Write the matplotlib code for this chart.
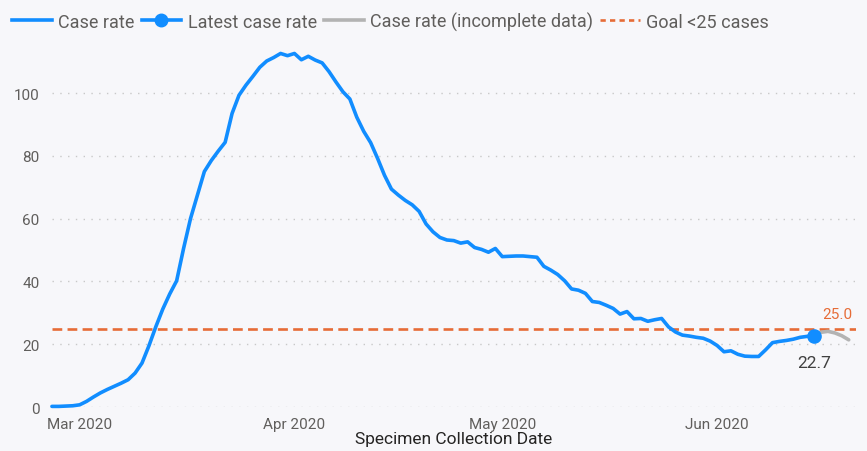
import numpy as np
import pandas as pd
import matplotlib
matplotlib.use("Agg")
import matplotlib.pyplot as plt
import matplotlib.dates as mdates
from matplotlib.lines import Line2D

# case rate per day, starting 2020-02-26
start_date = "2020-02-26"
case_rate = [0.2, 0.2, 0.3, 0.4, 0.7, 1.8, 3.2, 4.5, 5.6, 6.6,
             7.6, 8.7, 10.8, 14.0, 19.5, 25.6, 31.2, 36.0, 40.2, 50.5,
             60.0, 67.5, 75.0, 78.5, 81.5, 84.3, 93.5, 99.3, 102.5, 105.3,
             108.2, 110.2, 111.3, 112.6, 111.9, 112.6, 110.6, 111.7, 110.5, 109.6,
             106.8, 103.5, 100.4, 98.1, 92.3, 87.8, 84.2, 79.2, 73.8, 69.4,
             67.5, 65.8, 64.4, 62.3, 58.3, 55.8, 54.0, 53.2, 53.0, 52.2,
             52.6, 50.8, 50.2, 49.3, 50.5, 47.9, 48.0, 48.1, 48.1, 47.9,
             47.7, 44.8, 43.6, 42.2, 40.2, 37.6, 37.2, 36.2, 33.6, 33.3,
             32.4, 31.4, 29.6, 30.4, 28.1, 28.2, 27.3, 27.8, 28.2, 25.5,
             23.9, 22.9, 22.6, 22.2, 21.9, 21.0, 19.6, 17.6, 17.9, 16.8,
             16.2, 16.1, 16.1, 18.2, 20.5, 20.9, 21.2, 21.6, 22.2, 22.5,
             22.7]
# incomplete data, starting at the latest complete day
incomplete_start = "2020-06-15"
incomplete_rate = [22.7, 23.8, 24.1, 23.6, 22.7, 21.4]
goal = 25.0
y_ticks = [0, 20, 40, 60, 80, 100]
month_ticks = ["2020-03-01", "2020-04-01", "2020-05-01", "2020-06-01"]

dates = pd.date_range(start_date, periods=len(case_rate), freq="D")
inc_dates = pd.date_range(incomplete_start, periods=len(incomplete_rate), freq="D")

plt.rcParams["font.family"] = ["Roboto", "DejaVu Sans"]

blue = "#118DFF"
orange = "#E66C37"
grey = "#B3B3B3"
text_c = "#605E5C"
bg = "#F7F7FA"

fig = plt.figure(figsize=(8.67, 4.52), dpi=100, facecolor=bg)
ax = fig.add_axes([0.0599, 0.0973, 0.927, 0.8197], facecolor=bg)

for yv in y_ticks:
    ax.axhline(yv, color="#C8C8C8", lw=1, ls=(0, (1, 4.6)), zorder=0)

ax.axhline(goal, color=orange, lw=1.9, ls=(0, (3.7, 2.0)), zorder=2)
ax.plot(inc_dates, incomplete_rate, color=grey, lw=2.6, zorder=3,
        solid_capstyle="round")
ax.plot(dates, case_rate, color=blue, lw=2.6, zorder=4, clip_on=False,
        solid_capstyle="round", solid_joinstyle="round")
ax.plot(dates[-1], case_rate[-1], "o", color=blue, ms=9.5, zorder=5)

ax.text(dates[-1], case_rate[-1] - 6.0, f"{case_rate[-1]:.1f}", ha="center",
        va="top", fontsize=12.5, color="#404040")
ax.text(inc_dates[-1] - pd.Timedelta(days=1.7), goal + 2.3, f"{goal:.1f}",
        ha="center", va="bottom", fontsize=11, color=orange)

ax.set_xlim(pd.Timestamp(start_date), pd.Timestamp(start_date) + pd.Timedelta(days=116))
ax.set_ylim(0, 118)
ax.set_yticks(y_ticks)
ax.set_xticks(pd.to_datetime(month_ticks))
ax.xaxis.set_major_formatter(mdates.DateFormatter("%b %Y"))
ax.tick_params(length=0, labelsize=11, labelcolor=text_c)
ax.tick_params(axis="y", pad=9)
ax.tick_params(axis="x", pad=7)
for s in ax.spines.values():
    s.set_visible(False)
ax.set_xlabel("Specimen Collection Date", fontsize=12.5, color="#252423", labelpad=0)

handles = [
    Line2D([], [], color=blue, lw=2.6),
    Line2D([], [], color=blue, lw=2.6, marker="o", ms=9),
    Line2D([], [], color=grey, lw=2.6),
    Line2D([], [], color=orange, lw=1.9, ls=(0, (2, 1.6))),
]
labels = ["Case rate", "Latest case rate", "Case rate (incomplete data)", "Goal <25 cases"]
fig.legend(handles, labels, loc="upper left", bbox_to_anchor=(-0.005, 1.008), ncol=4,
           frameon=False, fontsize=13, labelcolor=text_c, handlelength=2.2,
           handletextpad=0.35, columnspacing=0.4)

fig.savefig("out.png", dpi=100, facecolor=bg)
